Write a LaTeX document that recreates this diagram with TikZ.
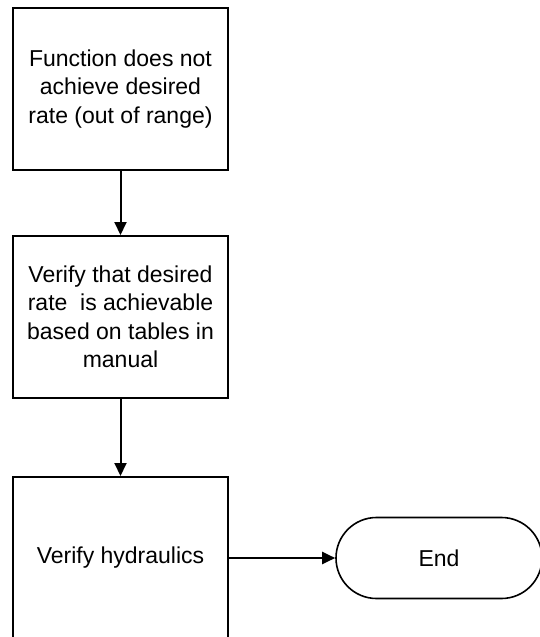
\documentclass[tikz,border=0pt]{standalone}
\usepackage{fontspec}
\setmainfont{Liberation Sans}
\usetikzlibrary{arrows.meta,shapes.misc}
\begin{document}
\begin{tikzpicture}[x=1pt,y=-1pt,
  stepbox/.style={draw=black,line width=2pt,fill=white,minimum width=215pt,minimum height=162pt,inner sep=0pt,align=center,font=\fontsize{23}{28.5}\selectfont},
  termbox/.style={draw=black,line width=1.6pt,fill=white,rounded rectangle,minimum width=206pt,minimum height=81pt,inner sep=0pt,font=\fontsize{23}{28.5}\selectfont},
  conn/.style={line width=2pt,-{Triangle[width=12pt,length=13pt]}}]
\useasboundingbox (0,0) rectangle (540,637);
\clip (0,0) rectangle (540,637);
\fill[white] (0,0) rectangle (540,637);
\node[stepbox] (a) at (120.5,89) {Function does not\\achieve desired\\rate (out of range)};
\node[stepbox] (b) at (120.5,317) {Verify that desired\\rate~ is achievable\\based on tables in\\manual};
\node[stepbox] (c) at (120.5,558) {Verify hydraulics};
\node[termbox] (d) at (439,558) {End};
\draw[conn] (a) -- (b);
\draw[conn] (b) -- (c);
\draw[conn] (c) -- (d);
\end{tikzpicture}
\end{document}
